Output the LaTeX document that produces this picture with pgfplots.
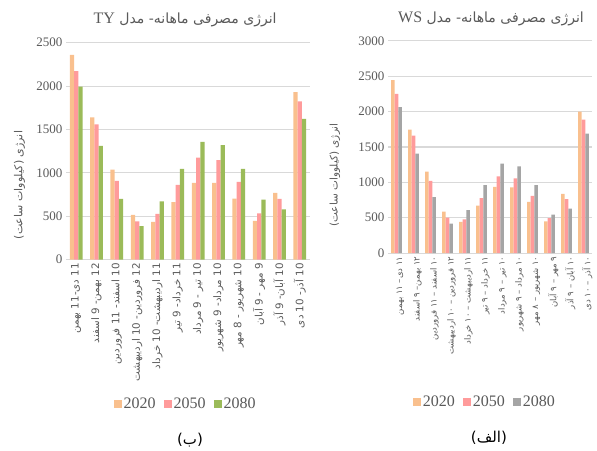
\documentclass[border=0pt]{standalone}
\usepackage{pgfplots}
\pgfplotsset{compat=1.18}
\usepackage{fontspec}
\setmainfont{Liberation Serif}
\newfontfamily\fa[Script=Arabic]{DejaVu Sans}
\TeXXeTstate=1
\definecolor{cA}{HTML}{F9C08E}
\definecolor{cB}{HTML}{FF9B9B}
\definecolor{cC}{HTML}{9BBB59}
\definecolor{cD}{HTML}{A5A5A5}
\definecolor{gridc}{HTML}{D9D9D9}
\definecolor{txt}{HTML}{595959}
\pgfplotsset{
  mystyle/.style={
    scale only axis, ybar, bar width=0.21, ymin=0, clip=false,
    xmin=-0.5, xmax=11.5, xtick={0,...,11},
    axis x line*=bottom, axis y line*=left,
    y axis line style={draw=none},
    x axis line style={gridc, line width=1pt},
    major tick length=0pt,
    ymajorgrids, grid style={gridc, line width=1pt},
    /pgf/number format/assume math mode=true,
    /pgf/number format/1000 sep={},
    yticklabel style={font=\fontsize{13}{13}\selectfont, text=txt},
    xticklabel style={rotate=90, anchor=east, text=txt},
    legend columns=3,
    legend style={draw=none, font=\fontsize{16}{16}\selectfont, text=txt,
      /tikz/every even column/.append style={column sep=6pt}},
    legend image code/.code={\fill[##1] (0pt,-4pt) rectangle (8pt,4pt);},
  }
}
\begin{document}
\begin{tikzpicture}
\useasboundingbox (0,0) rectangle (597pt,450pt);
% Left chart (TY)
\begin{axis}[mystyle,
  at={(66pt,190.3pt)}, anchor=south west,
  width=244pt, height=217pt, ymax=2500, ytick={0,500,...,2500},
  xticklabels={
    {\fa\beginR 11 دی-11 بهمن\endR},
    {\fa\beginR 12 بهمن- 9 اسفند\endR},
    {\fa\beginR 10 اسفند- 11 فروردین\endR},
    {\fa\beginR 12 فروردین- 10 اردیبهشت\endR},
    {\fa\beginR 11 اردیبهشت- 10 خرداد\endR},
    {\fa\beginR 11 خرداد- 9 تیر\endR},
    {\fa\beginR 10 تیر - 9 مرداد\endR},
    {\fa\beginR 10 مرداد- 9 شهریور\endR},
    {\fa\beginR 10 شهریور - 8 مهر\endR},
    {\fa\beginR 9 مهر - 9 آبان\endR},
    {\fa\beginR 10 آبان- 9 آذر\endR},
    {\fa\beginR 10 آذر- 10 دی\endR}},
  xticklabel style={font=\fontsize{10.3}{10.3}\selectfont},
  ylabel={\fa\beginR انرژی (کیلووات ساعت)\endR},
  ylabel style={at={(axis description cs:-0.19,0.344)}, anchor=center, font=\fontsize{11}{11}\selectfont, text=txt},
  title={\fontsize{14}{14}\selectfont\fa\beginR انرژی مصرفی ماهانه- مدل \beginL\fontsize{16}{16}\rmfamily TY\endL\endR},
  title style={at={(axis description cs:0.488,1.063)}, anchor=base, text=txt},
  legend style={at={(axis description cs:0.49,-0.665)}, anchor=center},
]
\addplot[fill=cA, draw=none, bar shift=-0.21] coordinates {(0,2360)(1,1640)(2,1038)(3,515)(4,435)(5,662)(6,885)(7,885)(8,704)(9,446)(10,769)(11,1931)};
\addplot[fill=cB, draw=none, bar shift=0] coordinates {(0,2173)(1,1558)(2,908)(3,442)(4,527)(5,862)(6,1177)(7,1146)(8,896)(9,535)(10,700)(11,1823)};
\addplot[fill=cC, draw=none, bar shift=0.21] coordinates {(0,1995)(1,1312)(2,700)(3,388)(4,673)(5,1046)(6,1358)(7,1319)(8,1046)(9,692)(10,581)(11,1623)};
\legend{2020,2050,2080}
\node[font=\fontsize{15}{15}\selectfont, text=black] at (axis description cs:0.508,-0.831) {\fa\beginR (ب)\endR};
\end{axis}
% Right chart (WS)
\begin{axis}[mystyle,
  at={(388pt,197pt)}, anchor=south west,
  width=204pt, height=212pt, ymax=3000, ytick={0,500,...,3000},
  xticklabels={
    {\fa\beginR ۱۱ دی– ۱۱ بهمن\endR},
    {\fa\beginR ۱۲ بهمن– ۹ اسفند\endR},
    {\fa\beginR ۱۰ اسفند – ۱۱ فروردین\endR},
    {\fa\beginR ۱۲ فروردین – ۱۰ اردیبهشت\endR},
    {\fa\beginR ۱۱ اردیبهشت – ۱۰ خرداد\endR},
    {\fa\beginR ۱۱ خرداد – ۹ تیر\endR},
    {\fa\beginR ۱۰ تیر – ۹ مرداد\endR},
    {\fa\beginR ۱۰ مرداد – ۹ شهریور\endR},
    {\fa\beginR ۱۰ شهریور – ۸ مهر\endR},
    {\fa\beginR ۹ مهر – ۹ آبان\endR},
    {\fa\beginR ۱۰ آبان – ۹ آذر\endR},
    {\fa\beginR ۱۰ آذر – ۱۰ دی\endR}},
  xticklabel style={font=\fontsize{8.5}{8.5}\selectfont, yshift=-4pt},
  ylabel={\fa\beginR انرژی (کیلووات ساعت)\endR},
  ylabel style={at={(axis description cs:-0.26,0.368)}, anchor=center, font=\fontsize{10.5}{10.5}\selectfont, text=txt},
  title={\fontsize{14}{14}\selectfont\fa\beginR انرژی مصرفی ماهانه- مدل \beginL\fontsize{16}{16}\rmfamily WS\endL\endR},
  title style={at={(axis description cs:0.505,1.057)}, anchor=base, text=txt},
  legend style={at={(axis description cs:0.475,-0.701)}, anchor=center},
]
\addplot[fill=cA, draw=none, bar shift=-0.21] coordinates {(0,2448)(1,1745)(2,1151)(3,585)(4,439)(5,670)(6,934)(7,929)(8,722)(9,448)(10,835)(11,2000)};
\addplot[fill=cB, draw=none, bar shift=0] coordinates {(0,2250)(1,1660)(2,1019)(3,500)(4,476)(5,778)(6,1085)(7,1057)(8,807)(9,495)(10,764)(11,1887)};
\addplot[fill=cD, draw=none, bar shift=0.21] coordinates {(0,2066)(1,1406)(2,792)(3,415)(4,608)(5,962)(6,1264)(7,1226)(8,962)(9,542)(10,627)(11,1689)};
\legend{2020,2050,2080}
\node[font=\fontsize{15}{15}\selectfont, text=black] at (axis description cs:0.495,-0.873) {\fa\beginR (الف)\endR};
\end{axis}
\end{tikzpicture}
\end{document}
